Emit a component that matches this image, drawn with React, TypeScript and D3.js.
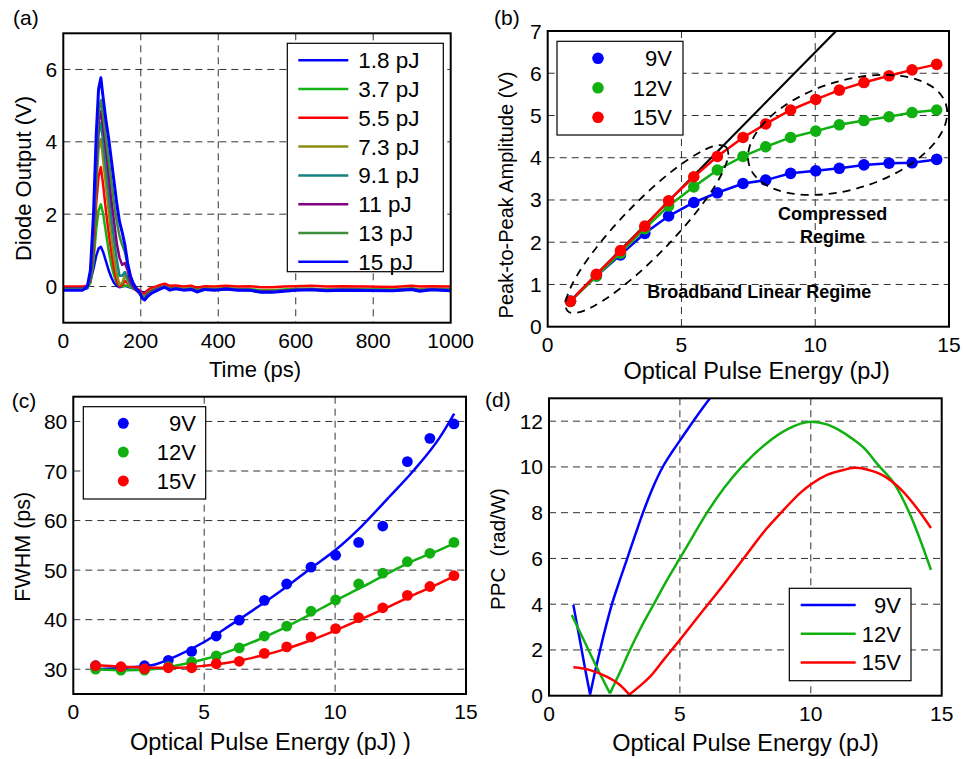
import React from 'react';
import * as d3 from 'd3';

// ---------------- Panel (a): diode output traces ----------------
const TIME_PS = [0, 50, 62, 70, 78, 85, 91, 97, 103, 110, 117, 124, 131, 138, 145, 152, 159, 166, 173, 180, 188, 196, 204, 210, 218, 228, 240, 252, 262, 275, 290, 310, 330, 345, 365, 390, 420, 450, 480, 510, 540, 570, 600, 640, 680, 720, 780, 850, 900, 920, 950, 1000];
const TRACE_1_8PJ = [-0.08, -0.08, -0.05, 0.15, 0.5, 0.85, 1.05, 1.1, 0.95, 0.7, 0.45, 0.25, 0.1, 0.02, -0.02, 0.0, 0.02, 0.0, -0.03, -0.05, -0.08, -0.12, -0.15, -0.16, -0.12, -0.07, -0.05, -0.03, -0.02, -0.06, -0.05, -0.08, -0.06, -0.1, -0.07, -0.08, -0.06, -0.08, -0.09, -0.11, -0.12, -0.1, -0.08, -0.08, -0.09, -0.08, -0.09, -0.1, -0.07, -0.09, -0.08, -0.09];
const TRACE_3_7PJ = [-0.05, -0.05, -0.03, 0.1, 0.7, 1.6, 2.1, 2.27, 2.0, 1.5, 1.0, 0.6, 0.3, 0.1, 0.02, 0.0, 0.03, 0.02, -0.02, -0.05, -0.08, -0.12, -0.2, -0.22, -0.15, -0.08, -0.05, -0.02, 0.0, -0.04, -0.03, -0.06, -0.04, -0.08, -0.05, -0.06, -0.04, -0.06, -0.07, -0.1, -0.1, -0.08, -0.06, -0.06, -0.08, -0.06, -0.07, -0.08, -0.05, -0.08, -0.06, -0.07];
const TRACE_5_5PJ = [0.0, 0.0, 0.02, 0.15, 1.0, 2.3, 3.05, 3.3, 2.8, 2.1, 1.5, 0.95, 0.5, 0.15, 0.0, 0.05, 0.15, 0.1, 0.02, 0.0, -0.05, -0.1, -0.2, -0.2, -0.1, -0.03, 0.0, 0.05, 0.08, 0.02, 0.03, 0.0, 0.02, -0.03, 0.01, 0.0, 0.02, 0.0, 0.01, -0.02, -0.02, 0.0, 0.01, 0.02, 0.0, 0.01, 0.0, -0.01, 0.02, 0.0, 0.01, 0.0];
const TRACE_7_3PJ = [-0.05, -0.05, -0.02, 0.2, 1.2, 2.8, 3.8, 4.08, 3.5, 2.8, 2.1, 1.4, 0.8, 0.35, 0.05, 0.1, 0.3, 0.15, 0.0, -0.05, -0.1, -0.15, -0.25, -0.27, -0.18, -0.1, -0.06, -0.02, 0.0, -0.05, -0.04, -0.07, -0.05, -0.1, -0.06, -0.07, -0.05, -0.07, -0.08, -0.12, -0.12, -0.1, -0.07, -0.07, -0.09, -0.07, -0.08, -0.09, -0.06, -0.09, -0.07, -0.08];
const TRACE_9_1PJ = [-0.05, -0.05, -0.02, 0.2, 1.4, 3.1, 4.2, 4.53, 4.0, 3.3, 2.6, 1.9, 1.3, 0.75, 0.3, 0.3, 0.4, 0.25, 0.05, -0.05, -0.1, -0.18, -0.28, -0.3, -0.2, -0.12, -0.07, -0.03, 0.0, -0.06, -0.05, -0.08, -0.06, -0.11, -0.07, -0.08, -0.06, -0.08, -0.09, -0.13, -0.13, -0.11, -0.08, -0.08, -0.1, -0.08, -0.09, -0.1, -0.07, -0.1, -0.08, -0.09];
const TRACE_11PJ = [-0.05, -0.05, -0.02, 0.25, 1.5, 3.4, 4.5, 4.85, 4.4, 3.8, 3.1, 2.4, 1.8, 1.2, 0.8, 0.6, 0.65, 0.45, 0.15, 0.0, -0.1, -0.18, -0.3, -0.32, -0.22, -0.13, -0.08, -0.03, 0.0, -0.07, -0.05, -0.09, -0.07, -0.12, -0.07, -0.09, -0.06, -0.09, -0.1, -0.14, -0.14, -0.11, -0.09, -0.08, -0.1, -0.09, -0.1, -0.11, -0.07, -0.11, -0.08, -0.1];
const TRACE_13PJ = [-0.07, -0.07, -0.03, 0.3, 1.7, 3.7, 4.8, 5.15, 4.7, 4.1, 3.5, 2.9, 2.3, 1.8, 1.4, 1.15, 0.95, 0.6, 0.3, 0.1, -0.05, -0.15, -0.28, -0.32, -0.24, -0.15, -0.1, -0.04, -0.01, -0.08, -0.05, -0.09, -0.07, -0.13, -0.08, -0.09, -0.07, -0.09, -0.1, -0.15, -0.15, -0.12, -0.09, -0.09, -0.11, -0.09, -0.1, -0.11, -0.08, -0.12, -0.08, -0.1];
const TRACE_15PJ = [-0.1, -0.1, 0.0, 0.45, 2.0, 4.2, 5.45, 5.77, 5.2, 4.6, 4.1, 3.5, 2.9, 2.3, 1.8, 1.5, 1.15, 0.65, 0.3, 0.1, -0.05, -0.15, -0.33, -0.37, -0.27, -0.18, -0.12, -0.06, -0.02, -0.1, -0.06, -0.1, -0.08, -0.15, -0.08, -0.1, -0.07, -0.1, -0.1, -0.16, -0.16, -0.13, -0.1, -0.09, -0.12, -0.1, -0.11, -0.12, -0.08, -0.13, -0.09, -0.12];
const TRACES = [TRACE_1_8PJ, TRACE_3_7PJ, TRACE_5_5PJ, TRACE_7_3PJ, TRACE_9_1PJ, TRACE_11PJ, TRACE_13PJ, TRACE_15PJ];
const TRACE_LABELS = ['1.8 pJ', '3.7 pJ', '5.5 pJ', '7.3 pJ', '9.1 pJ', '11 pJ', '13 pJ', '15 pJ'];
const TRACE_COLORS = ['#0000ff', '#14b414', '#ff0000', '#8c8c14', '#128282', '#820082', '#3c8c3c', '#0000ff'];
const A_X_TICKS = [0, 200, 400, 600, 800, 1000];
const A_Y_TICKS = [0, 2, 4, 6];

// ---------------- Shared ----------------
const VOLT_LABELS = ['9V', '12V', '15V'];
const VOLT_COLORS = ['#0000ff', '#10b010', '#ff0000'];
const E_TICKS = [0, 5, 10, 15];

// ---------------- Panel (b): peak-to-peak amplitude ----------------
const ENERGY_PJ = [0.85, 1.82, 2.72, 3.63, 4.52, 5.46, 6.34, 7.3, 8.15, 9.08, 10.02, 10.9, 11.82, 12.76, 13.62, 14.54];
const AMP_9V = [0.61, 1.2, 1.7, 2.21, 2.62, 2.94, 3.17, 3.39, 3.47, 3.63, 3.69, 3.75, 3.83, 3.87, 3.88, 3.96];
const AMP_12V = [0.6, 1.2, 1.74, 2.32, 2.86, 3.31, 3.71, 4.03, 4.26, 4.48, 4.63, 4.78, 4.88, 4.97, 5.07, 5.13];
const AMP_15V = [0.6, 1.24, 1.8, 2.38, 2.98, 3.55, 4.03, 4.48, 4.8, 5.13, 5.38, 5.6, 5.78, 5.94, 6.08, 6.21];
const LINEAR_E = [0.83, 10.78];
const LINEAR_AMP = [0.6, 7.0];
const B_Y_TICKS = [0, 1, 2, 3, 4, 5, 6, 7];

// ---------------- Panel (c): FWHM ----------------
const FWHM_9V = [30.7, 30.3, 30.7, 31.8, 33.6, 36.7, 39.9, 43.9, 47.2, 50.6, 53.0, 55.6, 58.9, 71.9, 76.6, 79.5];
const FWHM_12V = [30.0, 29.8, 29.8, 30.5, 31.5, 32.7, 34.3, 36.7, 38.7, 41.7, 44.0, 47.2, 49.4, 51.7, 53.4, 55.6];
const FWHM_15V = [30.7, 30.5, 30.1, 30.3, 30.3, 31.1, 31.6, 33.2, 34.5, 36.5, 38.2, 40.4, 42.4, 44.9, 46.7, 48.9];
const FIT_E = [0.87, 2, 3, 4, 5, 6, 7, 8, 9, 10, 11, 12, 13, 14, 14.55];
const FIT_9V = [30.0, 30.3, 30.8, 32.8, 35.5, 38.9, 42.4, 46.1, 50.1, 54.0, 58.8, 64.4, 70.1, 76.8, 81.6];
const FIT_12V = [30.0, 29.8, 30.0, 30.8, 32.0, 33.7, 35.8, 38.2, 40.9, 43.8, 46.5, 49.3, 51.9, 54.1, 55.4];
const FIT_15V = [30.8, 30.5, 30.3, 30.3, 30.7, 31.4, 32.5, 33.9, 35.7, 37.8, 40.1, 42.5, 45.0, 47.4, 48.8];
const C_Y_TICKS = [30, 40, 50, 60, 70, 80];

// ---------------- Panel (d): PPC ----------------
const PPC_9V_E = [0.93, 1.2, 1.4, 1.57, 1.75, 1.95, 2.2, 2.39, 2.63, 2.97, 3.3, 3.59, 3.95, 4.36, 4.7, 5.0, 5.51, 6.15, 6.5];
const PPC_9V = [3.97, 2.3, 1.05, 0.05, 1.0, 2.0, 3.15, 3.95, 4.8, 5.94, 7.05, 8.0, 9.05, 10.03, 10.65, 11.15, 12.0, 13.0, 13.5];
const PPC_12V_E = [0.87, 1.3, 1.8, 2.33, 2.7, 3.09, 3.5, 4.05, 4.42, 5.0, 5.5, 6.03, 6.7, 7.44, 8.33, 9.1, 10.0, 10.64, 11.1, 11.54, 12.1, 12.56, 13.21, 13.85, 14.59];
const PPC_12V = [3.53, 2.5, 1.3, 0.1, 1.0, 2.0, 2.95, 4.1, 4.88, 6.01, 6.98, 7.99, 9.1, 10.1, 11.05, 11.64, 11.97, 11.85, 11.6, 11.27, 10.75, 10.1, 9.23, 7.77, 5.5];
const PPC_15V_E = [0.93, 1.57, 2.2, 2.71, 3.07, 3.5, 3.86, 4.4, 5.0, 5.8, 6.67, 7.44, 8.33, 8.97, 9.62, 10.0, 10.64, 11.28, 11.73, 12.18, 12.82, 13.46, 14.1, 14.59];
const PPC_15V = [1.24, 1.12, 0.83, 0.47, 0.05, 0.45, 0.83, 1.6, 2.44, 3.6, 4.85, 6.01, 7.33, 8.13, 8.89, 9.23, 9.66, 9.88, 9.96, 9.88, 9.59, 9.0, 8.13, 7.33];
const D_Y_TICKS = [0, 2, 4, 6, 8, 10, 12];

// ---------------- Rendering ----------------
const FONT = "'Liberation Sans', Arial, Helvetica, sans-serif";
const GRID = { stroke: '#333', strokeWidth: 1, strokeDasharray: '7,5', fill: 'none' } as const;

type Box = { l: number; r: number; t: number; b: number };

function path(xs: number[], ys: number[], sx: any, sy: any, curve: any = d3.curveLinear) {
  const pts = xs.map((x, i) => [x, ys[i]] as [number, number]);
  return d3.line<[number, number]>().x(d => sx(d[0])).y(d => sy(d[1])).curve(curve)(pts) || '';
}

// smooth curve split at its minimum so the V-shaped dip stays sharp
function splitPath(xs: number[], ys: number[], sx: any, sy: any) {
  const m = d3.minIndex(ys);
  return path(xs.slice(0, m + 1), ys.slice(0, m + 1), sx, sy, d3.curveMonotoneX) + ' ' +
    path(xs.slice(m), ys.slice(m), sx, sy, d3.curveMonotoneX);
}

function Panel(props: {
  id: string; box: Box; sx: any; sy: any; xTicks: number[]; yTicks: number[];
  children?: React.ReactNode; overlay?: React.ReactNode;
}) {
  const { id, box, sx, sy, xTicks, yTicks, children, overlay } = props;
  const [x0, x1] = sx.domain();
  const [y0, y1] = sy.domain();
  return (
    <g>
      <defs>
        <clipPath id={id}>
          <rect x={box.l} y={box.t} width={box.r - box.l} height={box.b - box.t} />
        </clipPath>
      </defs>
      {xTicks.filter(v => v !== x0 && v !== x1).map(v => (
        <line key={'gx' + v} x1={sx(v)} x2={sx(v)} y1={box.t} y2={box.b} {...GRID} />
      ))}
      {yTicks.filter(v => v !== y0 && v !== y1).map(v => (
        <line key={'gy' + v} x1={box.l} x2={box.r} y1={sy(v)} y2={sy(v)} {...GRID} />
      ))}
      <g clipPath={`url(#${id})`}>{children}</g>
      <rect x={box.l} y={box.t} width={box.r - box.l} height={box.b - box.t} fill="none" stroke="#000" strokeWidth={2} />
      {xTicks.map(v => (
        <text key={'tx' + v} x={sx(v)} y={box.b + 25} textAnchor="middle" fontSize={21} fontFamily={FONT}>{v}</text>
      ))}
      {yTicks.map(v => (
        <text key={'ty' + v} x={box.l - 6} y={sy(v) + 7.5} textAnchor="end" fontSize={21} fontFamily={FONT}>{v}</text>
      ))}
      {overlay}
    </g>
  );
}

export default function App() {
  const boxA: Box = { l: 63.3, r: 450.7, t: 33.3, b: 322.7 };
  const sxA = d3.scaleLinear().domain([0, 1000]).range([boxA.l, boxA.r]);
  const syA = d3.scaleLinear().domain([-1, 7]).range([boxA.b, boxA.t]);

  const boxB: Box = { l: 547.7, r: 949, t: 31, b: 326.7 };
  const sxB = d3.scaleLinear().domain([0, 15]).range([boxB.l, boxB.r]);
  const syB = d3.scaleLinear().domain([0, 7]).range([boxB.b, boxB.t]);

  const boxC: Box = { l: 73.3, r: 466, t: 396.7, b: 694 };
  const sxC = d3.scaleLinear().domain([0, 15]).range([boxC.l, boxC.r]);
  const syC = d3.scaleLinear().domain([25, 85]).range([boxC.b, boxC.t]);

  const boxD: Box = { l: 549, r: 941.7, t: 398.3, b: 695.7 };
  const sxD = d3.scaleLinear().domain([0, 15]).range([boxD.l, boxD.r]);
  const syD = d3.scaleLinear().domain([0, 13]).range([boxD.b, boxD.t]);

  const ampSeries = [AMP_9V, AMP_12V, AMP_15V];
  const fwhmSeries = [FWHM_9V, FWHM_12V, FWHM_15V];
  const fitSeries = [FIT_9V, FIT_12V, FIT_15V];
  const ppcSeries: [number[], number[]][] = [[PPC_9V_E, PPC_9V], [PPC_12V_E, PPC_12V], [PPC_15V_E, PPC_15V]];

  const txt = (x: number, y: number, s: string, size: number, extra: any = {}) => (
    <text x={x} y={y} fontSize={size} fontFamily={FONT} {...extra}>{s}</text>
  );

  // ellipse annotations (centres in data units)
  const ell1 = { cx: sxB(3.71), cy: syB(2.31), rx: 114, ry: 26, rot: -46 };
  const ell2 = { cx: sxB(11.21), cy: syB(4.54), rx: 103, ry: 54, rot: -17.4 };

  return (
    <svg width={963} height={759} style={{ position: 'absolute', left: 0, top: 0, background: '#fff' }}>
      <rect x={0} y={0} width={963} height={759} fill="#fff" />

      {/* ---------- (a) ---------- */}
      <Panel id="clipA" box={boxA} sx={sxA} sy={syA} xTicks={A_X_TICKS} yTicks={A_Y_TICKS}
        overlay={
          <g>
            <rect x={287.3} y={43.3} width={156} height={228.4} fill="#fff" stroke="#000" strokeWidth={1.2} />
            {TRACE_LABELS.map((lab, i) => {
              const y = 60.3 + i * 28.77;
              return (
                <g key={lab}>
                  <line x1={298.3} x2={348.3} y1={y} y2={y} stroke={TRACE_COLORS[i]} strokeWidth={2.5} />
                  {txt(358.3, y + 8, lab, 22.5)}
                </g>
              );
            })}
          </g>
        }>
        {TRACES.map((tr, i) => (
          <path key={i} d={path(TIME_PS, tr, sxA, syA)} fill="none" stroke={TRACE_COLORS[i]} strokeWidth={i === 7 ? 3 : 2.5} strokeLinejoin="round" />
        ))}
      </Panel>
      {txt(13, 25, '(a)', 21)}
      {txt(255, 377, 'Time (ps)', 22, { textAnchor: 'middle' })}
      {txt(0, 0, 'Diode Output (V)', 22, { textAnchor: 'middle', transform: 'translate(31,178.5) rotate(-90)' })}

      {/* ---------- (b) ---------- */}
      <Panel id="clipB" box={boxB} sx={sxB} sy={syB} xTicks={E_TICKS} yTicks={B_Y_TICKS}
        overlay={
          <g>
            <rect x={557} y={41.3} width={126} height={93.7} fill="#fff" stroke="#000" strokeWidth={1.2} />
            {VOLT_LABELS.map((lab, i) => {
              const y = 58.3 + i * 29.5;
              return (
                <g key={lab}>
                  <circle cx={598} cy={y} r={5.8} fill={VOLT_COLORS[i]} />
                  {txt(672, y + 8, lab, 22, { textAnchor: 'end' })}
                </g>
              );
            })}
          </g>
        }>
        <path d={path(LINEAR_E, LINEAR_AMP, sxB, syB)} fill="none" stroke="#000" strokeWidth={2.2} />
        {ampSeries.map((s, k) => (
          <g key={k}>
            <path d={path(ENERGY_PJ, s, sxB, syB)} fill="none" stroke={VOLT_COLORS[k]} strokeWidth={2.5} />
            {s.map((v, i) => (
              <circle key={i} cx={sxB(ENERGY_PJ[i])} cy={syB(v)} r={5.8} fill={VOLT_COLORS[k]} />
            ))}
          </g>
        ))}
        <ellipse cx={ell1.cx} cy={ell1.cy} rx={ell1.rx} ry={ell1.ry} transform={`rotate(${ell1.rot} ${ell1.cx} ${ell1.cy})`}
          fill="none" stroke="#000" strokeWidth={1.8} strokeDasharray="8,6" />
        <ellipse cx={ell2.cx} cy={ell2.cy} rx={ell2.rx} ry={ell2.ry} transform={`rotate(${ell2.rot} ${ell2.cx} ${ell2.cy})`}
          fill="none" stroke="#000" strokeWidth={1.8} strokeDasharray="8,6" />
      </Panel>
      {txt(sxB(10.65), syB(2.53), 'Compressed', 18, { textAnchor: 'middle', fontWeight: 'bold' })}
      {txt(sxB(10.65), syB(1.98), 'Regime', 18, { textAnchor: 'middle', fontWeight: 'bold' })}
      {txt(sxB(7.91), syB(0.67), 'Broadband Linear Regime', 18, { textAnchor: 'middle', fontWeight: 'bold' })}
      {txt(494, 25, '(b)', 21)}
      {txt(756.7, 379, 'Optical Pulse Energy (pJ)', 23.5, { textAnchor: 'middle' })}
      {txt(0, 0, 'Peak-to-Peak Amplitude (V)', 20, { textAnchor: 'middle', transform: 'translate(513,195) rotate(-90)' })}

      {/* ---------- (c) ---------- */}
      <Panel id="clipC" box={boxC} sx={sxC} sy={syC} xTicks={E_TICKS} yTicks={C_Y_TICKS}
        overlay={
          <g>
            <rect x={83.3} y={406.7} width={122.4} height={92.3} fill="#fff" stroke="#000" strokeWidth={1.2} />
            {VOLT_LABELS.map((lab, i) => {
              const y = 423.3 + i * 28.8;
              return (
                <g key={lab}>
                  <circle cx={123.3} cy={y} r={5.5} fill={VOLT_COLORS[i]} />
                  {txt(196, y + 8, lab, 22, { textAnchor: 'end' })}
                </g>
              );
            })}
          </g>
        }>
        {fwhmSeries.map((s, k) => (
          <g key={k}>
            {s.map((v, i) => (
              <circle key={i} cx={sxC(ENERGY_PJ[i])} cy={syC(v)} r={5.4} fill={VOLT_COLORS[k]} />
            ))}
            <path d={path(FIT_E, fitSeries[k], sxC, syC, d3.curveMonotoneX)} fill="none" stroke={VOLT_COLORS[k]} strokeWidth={2.5} />
          </g>
        ))}
      </Panel>
      {txt(11.7, 408, '(c)', 21)}
      {txt(130, 750, 'Optical Pulse Energy (pJ) )', 23.5)}
      {txt(0, 0, 'FWHM (ps)', 21.5, { textAnchor: 'middle', transform: 'translate(30,546.7) rotate(-90)' })}

      {/* ---------- (d) ---------- */}
      <Panel id="clipD" box={boxD} sx={sxD} sy={syD} xTicks={E_TICKS} yTicks={D_Y_TICKS}
        overlay={
          <g>
            <rect x={789.3} y={588.3} width={121.7} height={92.4} fill="#fff" stroke="#000" strokeWidth={1.2} />
            {VOLT_LABELS.map((lab, i) => {
              const y = 605 + i * 28.7;
              return (
                <g key={lab}>
                  <line x1={800.7} x2={855.7} y1={y} y2={y} stroke={VOLT_COLORS[i]} strokeWidth={2.5} />
                  {txt(901, y + 8, lab, 22, { textAnchor: 'end' })}
                </g>
              );
            })}
          </g>
        }>
        {ppcSeries.map(([ex, vy], k) => (
          <path key={k} d={splitPath(ex, vy, sxD, syD)} fill="none" stroke={VOLT_COLORS[k]} strokeWidth={2.5} strokeLinejoin="round" />
        ))}
      </Panel>
      {txt(485, 407, '(d)', 21)}
      {txt(745.5, 751, 'Optical Pulse Energy (pJ)', 23.5, { textAnchor: 'middle' })}
      {txt(0, 0, 'PPC  (rad/W)', 20.5, { textAnchor: 'middle', transform: 'translate(504.5,549) rotate(-90)', style: { whiteSpace: 'pre' } })}
    </svg>
  );
}
